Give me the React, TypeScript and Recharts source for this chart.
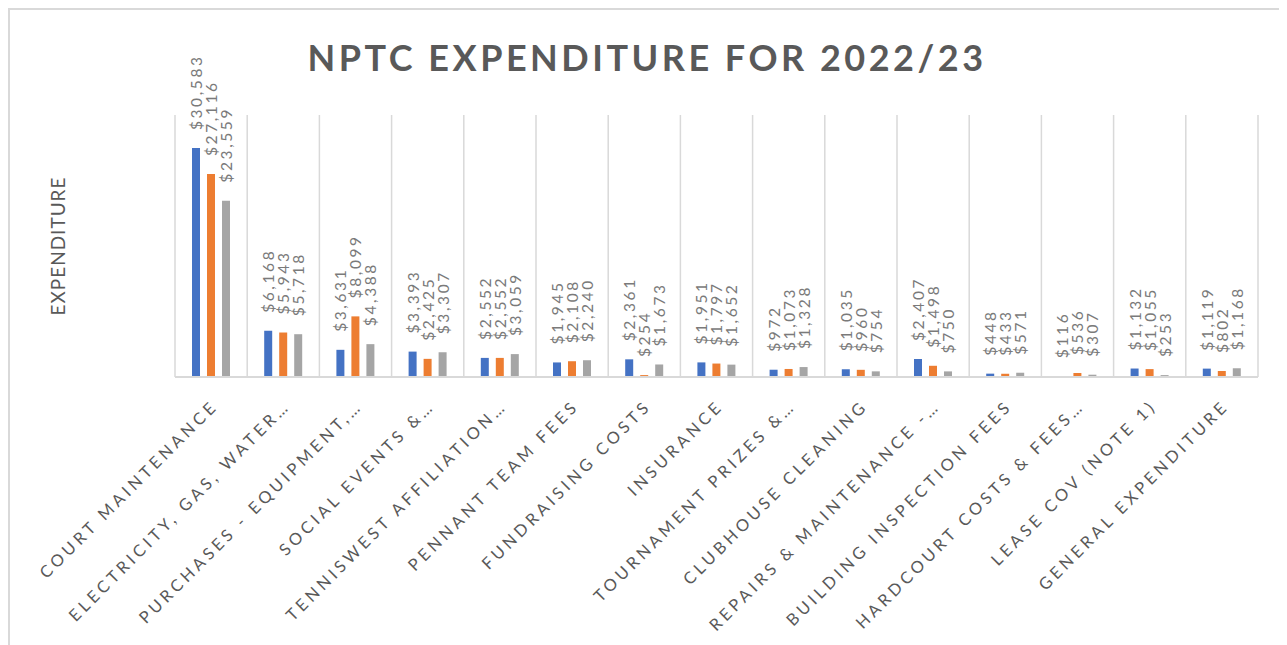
import React from 'react';
import { BarChart, Bar, XAxis, YAxis, CartesianGrid, LabelList } from 'recharts';

const categories = [
    'COURT MAINTENANCE',
    'ELECTRICITY, GAS, WATER…',
    'PURCHASES - EQUIPMENT,…',
    'SOCIAL EVENTS &…',
    'TENNISWEST AFFILIATION…',
    'PENNANT TEAM FEES',
    'FUNDRAISING COSTS',
    'INSURANCE',
    'TOURNAMENT PRIZES &…',
    'CLUBHOUSE CLEANING',
    'REPAIRS & MAINTENANCE -…',
    'BUILDING INSPECTION FEES',
    'HARDCOURT COSTS & FEES…',
    'LEASE COV (NOTE 1)',
    'GENERAL EXPENDITURE',
];

const seriesA = [30583, 6168, 3631, 3393, 2552, 1945, 2361, 1951, 972, 1035, 2407, 448, 116, 1132, 1119];
const seriesB = [27116, 5943, 8099, 2425, 2552, 2108, 254, 1797, 1073, 960, 1498, 433, 536, 1055, 802];
const seriesC = [23559, 5718, 4388, 3307, 3059, 2240, 1673, 1652, 1328, 754, 750, 571, 307, 253, 1168];

const data = categories.map((name, i) => ({ name, a: seriesA[i], b: seriesB[i], c: seriesC[i] }));

const FONT = 'Lato, "Open Sans", sans-serif';

const money = (v: number) => '$' + v.toLocaleString('en-US');

function ValueLabel(props: any) {
    const { x, y, width, value } = props;
    const cx = x + width / 2;
    const ty = y - 18;
    return (
        <text
            x={cx}
            y={ty}
            transform={`rotate(-90, ${cx}, ${ty})`}
            textAnchor="start"
            dominantBaseline="central"
            fontFamily={FONT}
            fontSize={15.5}
            letterSpacing={2.6}
            fill="#7a7a7a"
        >
            {money(value)}
        </text>
    );
}

function CategoryTick(props: any) {
    const { x, y, payload } = props;
    const tx = x + 8;
    const ty = y + 22;
    return (
        <text
            x={tx}
            y={ty}
            transform={`rotate(-45, ${tx}, ${ty})`}
            textAnchor="end"
            fontFamily={FONT}
            fontSize={16.5}
            letterSpacing={3.8}
            fill="#595959"
        >
            {payload.value}
        </text>
    );
}

export default function App() {
    const n = categories.length;
    return (
        <div
            style={{
                position: 'relative',
                width: 1274,
                height: 640,
                border: '2px solid #d9d9d9',
                borderBottom: 'none',
                background: '#fff',
            }}
        >
            <div
                style={{
                    position: 'absolute',
                    left: 0,
                    width: '100%',
                    top: 27,
                    textAlign: 'center',
                    fontFamily: FONT,
                    fontWeight: 700,
                    fontSize: 36,
                    letterSpacing: 3.5,
                    color: '#595959',
                    lineHeight: '40px',
                }}
            >
                NPTC EXPENDITURE FOR 2022/23
            </div>
            <div
                style={{
                    position: 'absolute',
                    left: 48 - 100,
                    top: 236 - 12,
                    width: 200,
                    height: 24,
                    lineHeight: '24px',
                    textAlign: 'center',
                    transform: 'rotate(-90deg)',
                    fontFamily: FONT,
                    fontSize: 19,
                    letterSpacing: 1,
                    color: '#595959',
                }}
            >
                EXPENDITURE
            </div>
            <BarChart
                width={1274}
                height={636}
                data={data}
                margin={{ top: 105, right: 26, left: 165, bottom: 9 }}
                barSize={8}
                barGap={7}
            >
                <CartesianGrid
                    horizontal={false}
                    stroke="#d9d9d9"
                    strokeWidth={1.5}
                    verticalCoordinatesGenerator={({ offset }: any) =>
                        Array.from({ length: n + 1 }, (_, i) => offset.left + (i * offset.width) / n)
                    }
                />
                <XAxis
                    dataKey="name"
                    interval={0}
                    height={260}
                    tickLine={false}
                    axisLine={{ stroke: '#d9d9d9', strokeWidth: 2 }}
                    tick={<CategoryTick />}
                />
                <YAxis hide domain={[0, 35000]} />
                <Bar dataKey="a" fill="#4472C4" isAnimationActive={false}>
                    <LabelList dataKey="a" content={<ValueLabel />} />
                </Bar>
                <Bar dataKey="b" fill="#ED7D31" isAnimationActive={false}>
                    <LabelList dataKey="b" content={<ValueLabel />} />
                </Bar>
                <Bar dataKey="c" fill="#A5A5A5" isAnimationActive={false}>
                    <LabelList dataKey="c" content={<ValueLabel />} />
                </Bar>
            </BarChart>
        </div>
    );
}
